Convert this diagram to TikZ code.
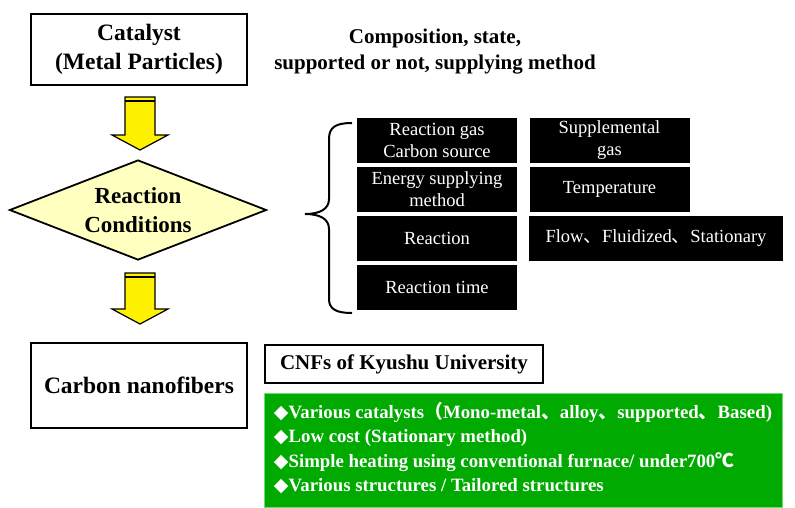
\documentclass[tikz,border=0pt]{standalone}
\usepackage{fontspec}
\setmainfont{Liberation Serif}
\newfontfamily\cjk{Noto Sans CJK JP}
\newfontfamily\symb{DejaVu Sans}
\usetikzlibrary{shapes.geometric}
\definecolor{condyellow}{RGB}{255,255,192}
\definecolor{cnfgreen}{RGB}{0,170,0}
\definecolor{edgegreen}{RGB}{110,220,110}
\tikzset{%
  % Specifications for style of nodes:
            base/.style = {rectangle, draw=black, line width=1.6pt,
                           minimum width=216, minimum height=71,
                           align=center, font=\fontsize{23.5}{29}\selectfont\bfseries},
          cond/.style = {diamond, draw=black, line width=1.8pt, fill=condyellow,
                         minimum width=257, minimum height=100, inner sep=0pt,
                         aspect=2.57, align=center,
                         font=\fontsize{23}{29}\selectfont\bfseries},
          item/.style = {rectangle, fill=black, text=white,
                         minimum width=160, minimum height=45, inner sep=1pt,
                         align=center, font=\fontsize{18.5}{22}\selectfont},
         title/.style = {rectangle, draw=black, line width=2pt,
                         minimum width=278, minimum height=38,
                         font=\fontsize{21}{24}\selectfont\bfseries},
          list/.style = {rectangle, fill=cnfgreen, draw=edgegreen, line width=1pt,
                         text=white, minimum width=518, minimum height=114,
                         inner xsep=5pt,
                         font=\fontsize{18.8}{24.3}\selectfont\bfseries},
      fatarrow/.style = {draw=black, line width=1.2pt, fill=yellow, line join=miter}
}
\newcommand{\jc}{{\cjk 、}}
\newcommand{\bul}{{\symb\fontsize{19}{24}\selectfont ◆}}

\begin{document}
\begin{tikzpicture}[x=1pt, y=-1pt]
  \useasboundingbox (0,0) rectangle (795,507);

  % Specification of nodes (position, etc.)
  \node (catalyst)  [base]  at (139,49.5) {\raisebox{-3pt}{\begin{tabular}{@{}c@{}}Catalyst\\(Metal Particles)\end{tabular}}};
  \node (conditions) [cond] at (138,210) {Reaction\\Conditions};
  \node (cnf)       [base, minimum height=85] at (139,385.5) {Carbon nanofibers};

  \node (comp) [align=center, font=\fontsize{21}{26}\selectfont\bfseries]
        at (435,52) {Composition, state,\\supported or not, supplying method};

  % parameters of the reaction
  \node (gas)    [item] at (437,140)   {Reaction gas\\Carbon source};
  \node (suppl)  [item] at (609.5,140) {Supplemental\\gas};
  \node (energy) [item] at (437,189.5) {Energy supplying\\method};
  \node (temp)   [item] at (609.5,189.5) {Temperature};
  \node (react)  [item] at (437,238.5) {Reaction};
  \node (mode)   [item, minimum width=254] at (656,238.5) {Flow\jc Fluidized\jc Stationary};
  \node (rtime)  [item] at (437,287.5) {Reaction time};

  \node (kyushu) [title] at (404,364) {CNFs of Kyushu University};
  \node (points) [list]  at (523,450)
        {\raisebox{5pt}{\begin{tabular}{@{}l@{}}
         \bul Various catalysts{\cjk （}Mono-metal\jc alloy\jc supported\jc Based)\\
         \bul Low cost (Stationary method)\\
         \bul Simple heating using conventional furnace/ under700{\cjk ℃}\\
         \bul Various structures / Tailored structures
         \end{tabular}}};

  % yellow block arrows between the steps
  \foreach \t/\s in {97/38, 273/36} {
    \draw[fatarrow] (125,\t) -- (155,\t) -- (155,\t+\s) -- (168,\t+\s)
                    -- (140,\t+\s+15) -- (112,\t+\s) -- (125,\t+\s) -- cycle;
    \draw[line width=1.2pt] (125,\t+4) -- (155,\t+4);
  }

  % brace grouping the reaction conditions
  \draw[line width=2pt] (352,123) .. controls (336,123) and (329,127) .. (329,139)
        -- (329,199) .. controls (329,209) and (320,214) .. (305,214)
        .. controls (320,214) and (329,219) .. (329,229)
        -- (329,299) .. controls (329,309) and (336,313) .. (352,313);
\end{tikzpicture}
\end{document}
